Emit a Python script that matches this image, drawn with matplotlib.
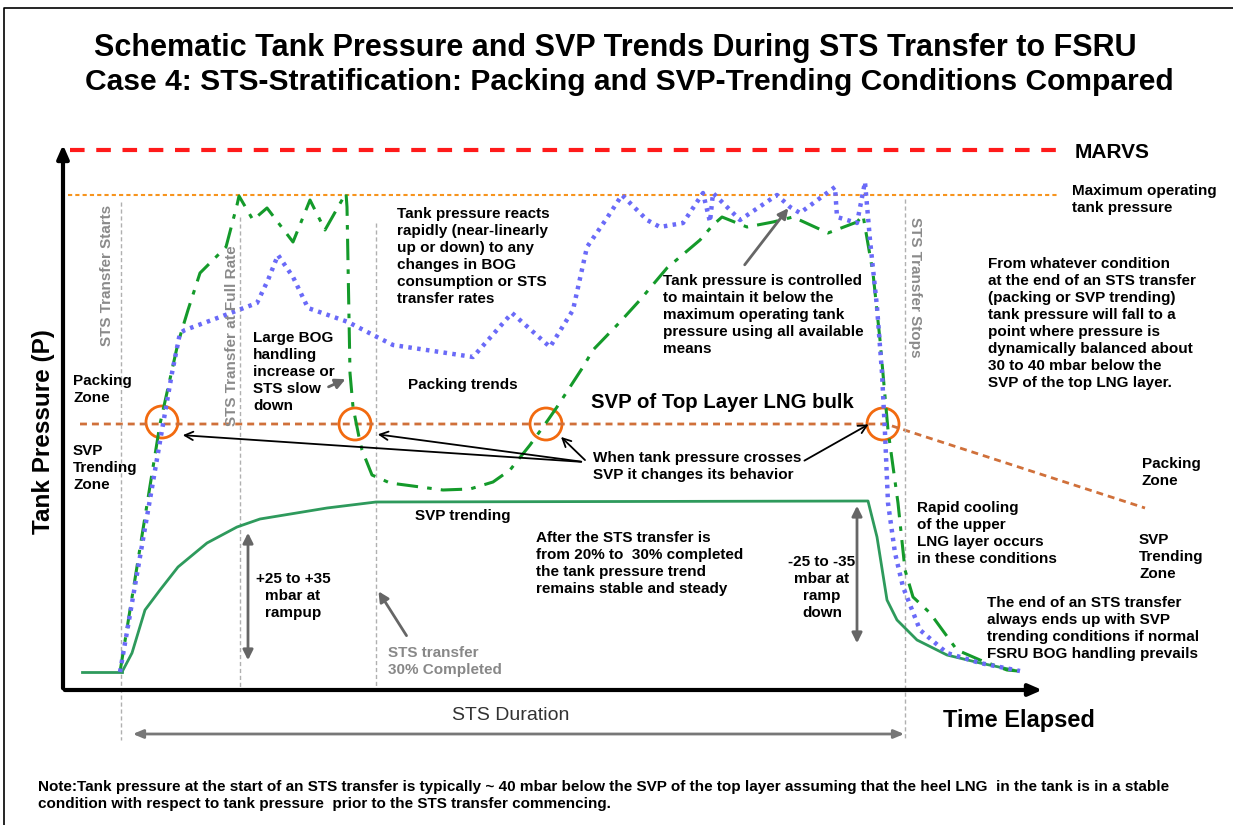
import numpy as np
import matplotlib
matplotlib.use("Agg")
import matplotlib.pyplot as plt
from matplotlib.patches import Circle

plt.rcParams['font.family'] = ['Liberation Sans', 'DejaVu Sans']

# chart read in picture units (x: time, y: pressure, y grows downwards)
t_base = [82, 122]
p_base = [672, 672]

svp_x = [122, 132, 145, 160, 178, 207, 237, 260, 327, 376, 868, 877, 887, 897,
         917, 947, 980, 1013]
svp_y = [672, 653, 610, 590, 567, 543, 527, 519, 508, 502, 501, 537, 600, 620,
         640, 655, 663, 670]

pack_x = [120, 160, 178, 188, 200, 226, 237, 239, 253, 267, 293, 310, 325, 346,
          347, 350, 353, 359, 362, 372, 390, 443, 470, 493, 510, 530, 548, 557,
          583, 593, 620, 640, 667, 700, 713, 722, 747, 773, 793, 828, 857, 863,
          873, 880, 888, 898, 905, 913, 930, 957, 980, 1007, 1018]
pack_y = [672, 424, 343, 310, 273, 247, 205, 196, 220, 208, 242, 200, 230, 193,
          207, 373, 407, 437, 450, 475, 483, 490, 489, 482, 470, 445, 420, 407,
          367, 350, 322, 300, 268, 240, 225, 217, 227, 222, 217, 233, 222, 215,
          273, 340, 430, 503, 570, 597, 613, 650, 660, 670, 671]

trend_x = [120, 162, 172, 180, 185, 220, 257, 268, 278, 293, 308, 348, 377, 393,
           440, 473, 512, 550, 573, 587, 607, 622, 647, 660, 683, 703, 710, 713,
           740, 777, 790, 800, 835, 837, 857, 865, 870, 877, 882, 885, 888, 895,
           903, 920, 947, 980, 1020]
trend_y = [672, 430, 373, 333, 330, 317, 303, 280, 255, 277, 308, 322, 337, 345,
           352, 357, 313, 347, 310, 247, 218, 195, 220, 227, 223, 193, 222, 193,
           220, 195, 207, 213, 187, 217, 223, 182, 240, 307, 373, 433, 503, 553,
           587, 630, 653, 663, 671]

svp_level_x = [80, 886, 1145]
svp_level_y = [424, 424, 508]

cross_x = [162, 355, 546, 883]
cross_y = [422, 424, 424, 424]

marker_x = [121, 240, 376, 905]
marker_top = [202, 217, 223, 199]
marker_bot = [740, 690, 690, 740]

fig = plt.figure(figsize=(12.33, 8.25), dpi=100)
ax = fig.add_axes([0, 0, 1, 1])
ax.set_xlim(0, 1233)
ax.set_ylim(825, 0)
ax.axis('off')

# frame
ax.plot([4, 4, 1233], [825, 8, 8], color='black', lw=1.2)

# titles
ax.text(615, 48, "Schematic Tank Pressure and SVP Trends During STS Transfer to FSRU",
        ha='center', va='center', fontsize=22, fontweight='bold')
ax.text(629, 82, "Case 4: STS-Stratification: Packing and SVP-Trending Conditions Compared",
        ha='center', va='center', fontsize=21.6, fontweight='bold')

# reference levels
ax.plot([70, 1062], [150, 150], color='#ff1a1a', lw=3, dashes=(3.5, 2.8))
ax.plot([68, 1058], [195, 195], color='#f7941d', lw=1.5, ls=(0, (2, 1.5)))
ax.plot(svp_level_x, svp_level_y, color='#d0703a', lw=2, ls=(0, (2.5, 1.8)))

# vertical markers
for xv, yt, yb in zip(marker_x, marker_top, marker_bot):
    ax.plot([xv, xv], [yt, yb], color='#b0b0b0', lw=1, ls=(0, (3, 2)))

# curves
ax.plot(t_base, p_base, color='#2e9a5c', lw=2)
ax.plot(svp_x, svp_y, color='#2e9a5c', lw=2)
ax.plot(pack_x, pack_y, color='#149a2a', lw=2.2, ls=(0, (7, 3, 1.5, 3)))
ax.plot(trend_x, trend_y, color='#6a6af8', lw=3.2, ls=(0, (0.8, 1.2)))

for cx, cy in zip(cross_x, cross_y):
    ax.add_patch(Circle((cx, cy), 16, fill=False, ec='#f26a0f', lw=2))

# axes
ax.annotate('', xy=(63, 142), xytext=(63, 691),
            arrowprops=dict(arrowstyle='-|>,head_length=0.8,head_width=0.35', color='black', lw=3))
ax.annotate('', xy=(1045, 690), xytext=(62, 690),
            arrowprops=dict(arrowstyle='-|>,head_length=0.8,head_width=0.35', color='black', lw=3))

# black arrows from "crosses" text
blk = dict(arrowstyle='->,head_length=0.6,head_width=0.3', color='black', lw=1.3)
ax.annotate('', xy=(180, 435), xytext=(584, 462), arrowprops=blk)
ax.annotate('', xy=(375, 434), xytext=(584, 462), arrowprops=blk)
ax.annotate('', xy=(559, 435), xytext=(587, 462), arrowprops=blk)
ax.annotate('', xy=(871, 423), xytext=(802, 462), arrowprops=blk)

# gray arrows
gry = dict(arrowstyle='-|>,head_length=0.6,head_width=0.3', color='#666666', lw=2)
ax.annotate('', xy=(348, 378), xytext=(326, 388), arrowprops=gry)
ax.annotate('', xy=(790, 206), xytext=(743, 267), arrowprops=gry)
ax.annotate('', xy=(377, 589), xytext=(408, 638), arrowprops=gry)
dbl = dict(arrowstyle='<|-|>,head_length=0.6,head_width=0.3', color='#666666', lw=2)
ax.annotate('', xy=(248, 530), xytext=(248, 663), arrowprops=dbl)
ax.annotate('', xy=(857, 503), xytext=(857, 646), arrowprops=dbl)
ax.annotate('', xy=(130, 734), xytext=(907, 734),
            arrowprops=dict(arrowstyle='<|-|>,head_length=0.6,head_width=0.25', color='#777777', lw=2))

# labels
kw = dict(fontsize=11, fontweight='bold', linespacing=1.27, va='top', ha='left')
ax.text(1075, 152, "MARVS", fontsize=15, fontweight='bold', va='center')
ax.text(1072, 184, "Maximum operating\ntank pressure", **kw)
ax.text(397, 207, "Tank pressure reacts\nrapidly (near-linearly\nup or down) to any\n"
        "changes in BOG\nconsumption or STS\ntransfer rates", **kw)
ax.text(253, 331, "Large BOG\nhandling\nincrease or\nSTS slow\ndown", **kw)
ax.text(73, 374, "Packing\nZone", **kw)
ax.text(73, 444, "SVP\nTrending\nZone", **kw)
ax.text(408, 385, "Packing trends", fontsize=11, fontweight='bold', va='center')
ax.text(591, 403, "SVP of Top Layer LNG bulk", fontsize=14.7, fontweight='bold', va='center')
ax.text(663, 274, "Tank pressure is controlled\nto maintain it below the\nmaximum operating tank\n"
        "pressure using all available\nmeans", **kw)
ax.text(988, 257, "From whatever condition\nat the end of an STS transfer\n(packing or SVP trending)\n"
        "tank pressure will fall to a\npoint where pressure is\ndynamically balanced about\n"
        "30 to 40 mbar below the\nSVP of the top LNG layer.", **kw)
ax.text(1142, 457, "Packing\nZone", **kw)
ax.text(1139, 533, "SVP\nTrending\nZone", **kw)
ax.text(917, 501, "Rapid cooling\nof the upper\nLNG layer occurs\nin these conditions", **kw)
ax.text(987, 596, "The end of an STS transfer\nalways ends up with SVP\n"
        "trending conditions if normal\nFSRU BOG handling prevails", **kw)
ax.text(415, 516, "SVP trending", fontsize=11, fontweight='bold', va='center')
ax.text(536, 531, "After the STS transfer is\nfrom 20% to  30% completed\n"
        "the tank pressure trend\nremains stable and steady", **kw)
ax.text(593, 451, "When tank pressure crosses\nSVP it changes its behavior", **kw)
ax.text(293, 572, "+25 to +35\nmbar at\nrampup", fontsize=11, fontweight='bold',
        linespacing=1.27, va='top', ha='center')
ax.text(822, 555, "-25 to -35\nmbar at\nramp\ndown", fontsize=11, fontweight='bold',
        linespacing=1.27, va='top', ha='center')
ax.text(388, 646, "STS transfer\n30% Completed", color='#888888', **kw)

gk = dict(fontsize=11, fontweight='bold', color='#8a8a8a', va='center', ha='center')
ax.text(107, 275, "STS Transfer Starts", rotation=90, **gk)
ax.text(232, 336, "STS Transfer at Full Rate", rotation=90, **gk)
ax.text(915, 287, "STS Transfer Stops", rotation=270, **gk)

ax.text(44, 432, "Tank Pressure (P)", rotation=90, fontsize=17.5, fontweight='bold',
        ha='center', va='center')
ax.text(943, 721, "Time Elapsed", fontsize=17, fontweight='bold', va='center')
ax.text(511, 716, "STS Duration", fontsize=14, color='#333333', ha='center', va='center')

ax.text(38, 780, "Note:Tank pressure at the start of an STS transfer is typically ~ 40 mbar below "
        "the SVP of the top layer assuming that the heel LNG  in the tank is in a stable\n"
        "condition with respect to tank pressure  prior to the STS transfer commencing.",
        fontsize=11, fontweight='bold', va='top', linespacing=1.25)

fig.savefig("out.png", dpi=100)
